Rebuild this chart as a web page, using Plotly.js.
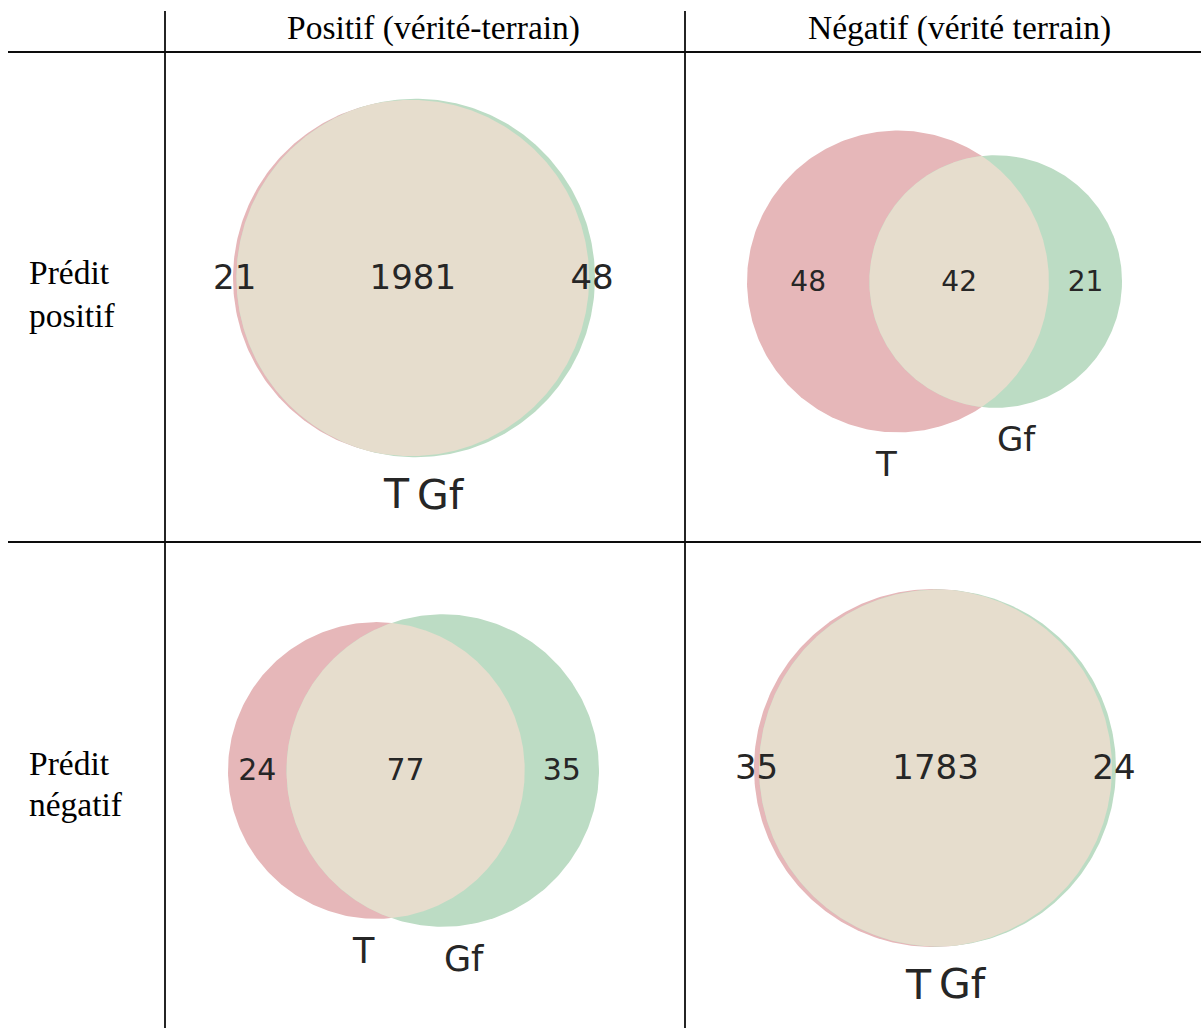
<!DOCTYPE html>
<html><head><meta charset="utf-8">
<script src="https://cdn.plot.ly/plotly-3.0.1.min.js"></script>
<style>html,body{margin:0;padding:0;background:#fff}#chart{width:1201px;height:1028px}</style>
</head><body><div id="chart"></div>
<script>
// ---- data ----
const columnHeaders = ['Positif (vérité-terrain)', 'Négatif (vérité terrain)'];
const rowHeaders = [['Prédit', 'positif'], ['Prédit', 'négatif']];
const setNames = ['T', 'Gf'];
// cell order: [pred+, truth+], [pred+, truth-], [pred-, truth+], [pred-, truth-]
const onlyT   = [21, 48, 24, 35];
const onlyGf  = [48, 21, 35, 24];
const bothTGf = [1981, 42, 77, 1783];

// ---- styles / layout ----
const W = 1201, H = 1028;
const colorT = 'rgb(230,183,185)';
const colorGf = 'rgb(188,220,196)';
const colorBoth = 'rgb(230,221,205)';
const textColor = '#262626';
const vennFont = 'DejaVu Sans, sans-serif';
const tableFont = 'Liberation Serif, Times New Roman, serif';
const cellLayout = [
  {x0:165, x1:686, y0:52,  y1:542,  cx:414,   cy:278,   w:362, num:34, lab:41},
  {x0:686, x1:1201,y0:52,  y1:542,  cx:934.5, cy:281.5, w:375, num:28, lab:34},
  {x0:165, x1:686, y0:542, y1:1028, cx:413.5, cy:770.5, w:371, num:30, lab:35},
  {x0:686, x1:1201,y0:542, y1:1028, cx:935,   cy:768,   w:362, num:34, lab:41}
];
const numDyPx = 2;      // small downward nudge of region counts
const labGapEm = 0.31;  // gap below circle for set labels, in label font ems

function lensArea(r1, r2, d) {
  if (d >= r1 + r2) return 0;
  if (d <= Math.abs(r1 - r2)) return Math.PI * Math.min(r1, r2) ** 2;
  const c1 = Math.min(1, Math.max(-1, (d*d + r1*r1 - r2*r2) / (2*d*r1)));
  const c2 = Math.min(1, Math.max(-1, (d*d + r2*r2 - r1*r1) / (2*d*r2)));
  const k = (-d + r1 + r2) * (d + r1 - r2) * (d - r1 + r2) * (d + r1 + r2);
  return r1*r1*Math.acos(c1) + r2*r2*Math.acos(c2) - 0.5*Math.sqrt(Math.max(0, k));
}
function solveDistance(r1, r2, A) {
  let lo = Math.abs(r1 - r2) + 1e-12, hi = r1 + r2;
  for (let i = 0; i < 200; i++) {
    const mid = (lo + hi) / 2;
    if (lensArea(r1, r2, mid) > A) lo = mid; else hi = mid;
  }
  return (lo + hi) / 2;
}
function arc(cx, cy, r, a0, a1, n) {
  const xs = [], ys = [];
  for (let i = 0; i <= n; i++) {
    const t = a0 + (a1 - a0) * i / n;
    xs.push(cx + r * Math.cos(t)); ys.push(cy + r * Math.sin(t));
  }
  return [xs, ys];
}

const traces = [], annotations = [], shapes = [];
const layout = {
  width: W, height: H, margin: {l:0, r:0, t:0, b:0},
  paper_bgcolor: '#fff', plot_bgcolor: 'rgba(0,0,0,0)', showlegend: false,
  hovermode: false
};

for (let i = 0; i < 4; i++) {
  const total = onlyT[i] + onlyGf[i] + bothTGf[i];
  const aT = (onlyT[i] + bothTGf[i]) / total;
  const aG = (onlyGf[i] + bothTGf[i]) / total;
  const aB = bothTGf[i] / total;
  const rT = Math.sqrt(aT / Math.PI), rG = Math.sqrt(aG / Math.PI);
  const d = solveDistance(rT, rG, aB);
  const com = (rG * rG * d) / (rT * rT + rG * rG);
  const xT = -com, xG = d - com;
  const minX = Math.min(xT - rT, xG - rG), maxX = Math.max(xT + rT, xG + rG);
  const bx = (minX + maxX) / 2, by = 0;
  const L = cellLayout[i];
  const s = L.w / (maxX - minX);
  const sfx = i === 0 ? '' : String(i + 1);
  const xa = 'x' + sfx, ya = 'y' + sfx;
  layout['xaxis' + sfx] = {
    domain: [L.x0 / W, L.x1 / W], anchor: ya,
    range: [bx + (L.x0 - L.cx) / s, bx + (L.x1 - L.cx) / s],
    visible: false, fixedrange: true, showgrid: false, zeroline: false
  };
  layout['yaxis' + sfx] = {
    domain: [1 - L.y1 / H, 1 - L.y0 / H], anchor: xa,
    range: [by - (L.y1 - L.cy) / s, by + (L.cy - L.y0) / s],
    visible: false, fixedrange: true, showgrid: false, zeroline: false
  };
  const N = 360;
  const cT = arc(xT, 0, rT, 0, 2 * Math.PI, N);
  const cG = arc(xG, 0, rG, 0, 2 * Math.PI, N);
  const base = {type: 'scatter', mode: 'lines', fill: 'toself', line: {width: 0},
                xaxis: xa, yaxis: ya, hoverinfo: 'skip', cliponaxis: false};
  traces.push(Object.assign({}, base, {x: cT[0], y: cT[1], fillcolor: colorT}));
  traces.push(Object.assign({}, base, {x: cG[0], y: cG[1], fillcolor: colorGf}));
  const a = (d * d + rT * rT - rG * rG) / (2 * d);
  const h = Math.sqrt(Math.max(0, rT * rT - a * a));
  const th1 = Math.atan2(h, a), th2 = Math.atan2(h, d - a);
  const p1 = arc(xT, 0, rT, -th1, th1, N);
  const p2 = arc(xG, 0, rG, Math.PI - th2, Math.PI + th2, N);
  traces.push(Object.assign({}, base, {x: p1[0].concat(p2[0]), y: p1[1].concat(p2[1]), fillcolor: colorBoth}));
  const labA = ((xT - rT) + (xG - rG)) / 2;
  const labAB = ((xG - rG) + (xT + rT)) / 2;
  const labB = ((xT + rT) + (xG + rG)) / 2;
  const ny = -numDyPx / s;
  traces.push({type: 'scatter', mode: 'text', xaxis: xa, yaxis: ya, hoverinfo: 'skip',
    x: [labA, labAB, labB], y: [ny, ny, ny],
    text: [String(onlyT[i]), String(bothTGf[i]), String(onlyGf[i])],
    textposition: 'middle center', cliponaxis: false,
    textfont: {family: vennFont, size: L.num, color: textColor}});
  const gap = labGapEm * L.lab / s;
  annotations.push({xref: xa, yref: ya, x: xT, y: -rT - gap, text: setNames[0],
    xanchor: 'right', yanchor: 'top', showarrow: false, borderpad: 0,
    font: {family: vennFont, size: L.lab, color: textColor}});
  annotations.push({xref: xa, yref: ya, x: xG, y: -rG - gap, text: setNames[1],
    xanchor: 'left', yanchor: 'top', showarrow: false, borderpad: 0,
    font: {family: vennFont, size: L.lab, color: textColor}});
}

const lineStyle = {color: '#0d0d0d', width: 1.8};
const px = v => v / W, py = v => 1 - v / H;
[[8, 52, 1201, 52], [8, 542, 1201, 542], [165, 11, 165, 1028], [685, 11, 685, 1028]].forEach(c => {
  shapes.push({type: 'line', xref: 'paper', yref: 'paper', x0: px(c[0]), y0: py(c[1]), x1: px(c[2]), y1: py(c[3]), line: lineStyle, layer: 'above'});
});
const colCenters = [433.5, 959];
columnHeaders.forEach((t, j) => annotations.push({xref: 'paper', yref: 'paper', x: px(colCenters[j]), y: py(28),
  text: t, xanchor: 'center', yanchor: 'middle', showarrow: false, borderpad: 0,
  font: {family: tableFont, size: 33.5, color: '#000'}}));
const rowLineY = [[273, 315], [763, 804]];
rowHeaders.forEach((lines, r) => lines.forEach((t, k) => annotations.push({xref: 'paper', yref: 'paper',
  x: px(28), y: py(rowLineY[r][k]), text: t, xanchor: 'left', yanchor: 'middle', showarrow: false, borderpad: 0,
  font: {family: tableFont, size: 33.5, color: '#000'}})));

layout.annotations = annotations;
layout.shapes = shapes;
Plotly.newPlot('chart', traces, layout, {displayModeBar: false, staticPlot: true});
</script></body></html>
